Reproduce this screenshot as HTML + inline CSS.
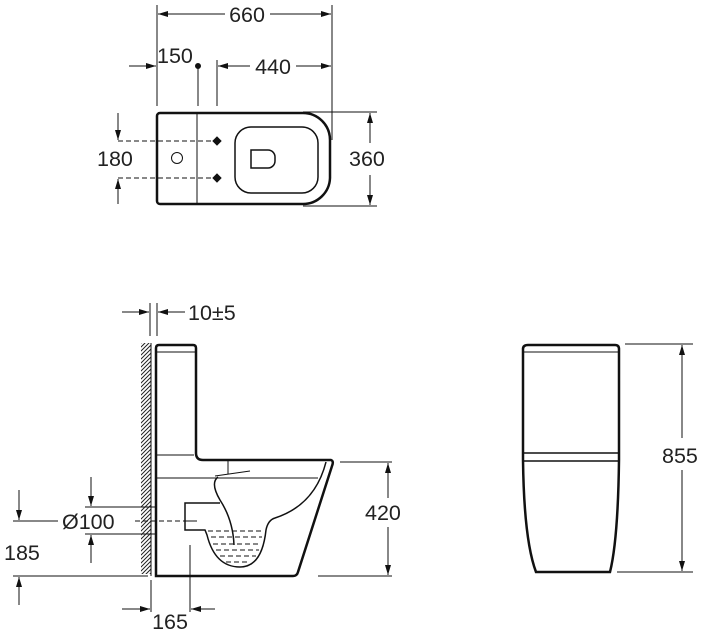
<!DOCTYPE html>
<html><head><meta charset="utf-8"><style>
html,body{margin:0;padding:0;background:#fff}
svg{display:block}
text{font-family:"Liberation Sans",Arial,sans-serif;font-size:21.5px;fill:#222}
</style></head><body>
<svg width="705" height="630" viewBox="0 0 705 630" xmlns="http://www.w3.org/2000/svg">
<defs>
<marker id="a" viewBox="0 0 10 6" refX="10" refY="3" markerWidth="10" markerHeight="6" markerUnits="userSpaceOnUse" orient="auto"><path d="M0,0L10,3L0,6z" fill="#111"/></marker>
<pattern id="h" width="4" height="4" patternUnits="userSpaceOnUse"><path d="M0,4L4,0M-1,1L1,-1M3,5L5,3" stroke="#222" stroke-width="1"/></pattern>
</defs>
<g stroke="#111" fill="none" stroke-width="1">
<!-- TOP VIEW -->
<line x1="157" y1="5" x2="157" y2="106"/>
<line x1="332" y1="5" x2="332" y2="140"/>
<line x1="225" y1="14" x2="158" y2="14" marker-end="url(#a)"/>
<line x1="270" y1="14" x2="331" y2="14" marker-end="url(#a)"/>
<line x1="129" y1="66" x2="156" y2="66" marker-end="url(#a)"/>
<line x1="198" y1="66" x2="198" y2="106"/>
<circle cx="198" cy="66" r="2.5" fill="#111"/>
<line x1="217" y1="60" x2="217" y2="106"/>
<line x1="250" y1="66" x2="218" y2="66" marker-end="url(#a)"/>
<line x1="296" y1="66" x2="331" y2="66" marker-end="url(#a)"/>
<path d="M160,113 H303 A27,27 0 0 1 330,140 V178 A27,27 0 0 1 303,204 H160 a3,3 0 0 1 -3,-3 V116 a3,3 0 0 1 3,-3z" stroke-width="2.5"/>
<line x1="197" y1="113" x2="197" y2="204"/>
<line x1="118" y1="141" x2="212" y2="141" stroke-dasharray="5,3"/>
<line x1="118" y1="178" x2="212" y2="178" stroke-dasharray="5,3"/>
<path d="M217,137L221,141L217,145L213,141z M217,174L221,178L217,182L213,178z" fill="#111"/>
<circle cx="177" cy="158" r="5.5"/>
<rect x="235" y="127" width="83" height="66" rx="16" stroke-width="1.5"/>
<path d="M251,150H268a7,7 0 0 1 7,7v4a7,7 0 0 1 -7,7H251z" stroke-width="1.5"/>
<line x1="118" y1="113" x2="118" y2="140" marker-end="url(#a)"/>
<line x1="118" y1="204" x2="118" y2="179" marker-end="url(#a)"/>
<line x1="303" y1="112" x2="377" y2="112"/>
<line x1="303" y1="206" x2="377" y2="206"/>
<line x1="370" y1="143" x2="370" y2="113" marker-end="url(#a)"/>
<line x1="370" y1="175" x2="370" y2="205" marker-end="url(#a)"/>

<!-- SIDE VIEW -->
<rect x="141" y="343" width="10" height="231" fill="url(#h)" stroke="none"/>
<line x1="151" y1="343" x2="151" y2="576"/>
<line x1="150" y1="303" x2="150" y2="336"/>
<line x1="157" y1="303" x2="157" y2="336"/>
<line x1="122" y1="312" x2="149" y2="312" marker-end="url(#a)"/>
<line x1="185" y1="312" x2="158" y2="312" marker-end="url(#a)"/>
<path d="M156,576 V348 Q156,345 159,345 H193 Q196,345 196,348 V453 Q196,460 203,460 H331 Q334,461 332,466 L298,572 Q297,576 293,576 H156z" stroke-width="2.5"/>
<line x1="156" y1="352" x2="196" y2="352"/>
<line x1="156" y1="455" x2="194" y2="455"/>
<line x1="156" y1="478" x2="318" y2="478"/>
<path d="M326,462 Q315,505 275,518 Q268,520 266,530 Q262,567 240,567 Q215,567 207,535 L205,530 H185 V503 H220" stroke-width="1.5"/>
<path d="M218,477 Q210,483 220,500 Q233,520 234,545" stroke-width="1.5"/>
<line x1="228" y1="461" x2="228" y2="474"/>
<line x1="215" y1="476" x2="250" y2="471"/>
<g stroke-dasharray="5,3">
<line x1="208" y1="531" x2="263" y2="531"/>
<line x1="211" y1="537" x2="262" y2="537"/>
<line x1="213" y1="544" x2="261" y2="544"/>
<line x1="216" y1="550" x2="259" y2="550"/>
<line x1="220" y1="556" x2="256" y2="556"/>
<line x1="226" y1="562" x2="250" y2="562"/>
<line x1="135" y1="521" x2="180" y2="521"/>
</g>
<line x1="183" y1="521" x2="197" y2="521"/>
<line x1="85" y1="507" x2="156" y2="507"/>
<line x1="85" y1="534" x2="156" y2="534"/>
<line x1="91" y1="477" x2="91" y2="506" marker-end="url(#a)"/>
<line x1="91" y1="563" x2="91" y2="535" marker-end="url(#a)"/>
<line x1="13" y1="521" x2="58" y2="521"/>
<line x1="13" y1="576" x2="148" y2="576"/>
<line x1="19" y1="490" x2="19" y2="520" marker-end="url(#a)"/>
<line x1="19" y1="605" x2="19" y2="577" marker-end="url(#a)"/>
<line x1="340" y1="462" x2="392" y2="462"/>
<line x1="318" y1="576" x2="392" y2="576"/>
<line x1="388" y1="498" x2="388" y2="463" marker-end="url(#a)"/>
<line x1="388" y1="527" x2="388" y2="575" marker-end="url(#a)"/>
<line x1="151" y1="580" x2="151" y2="612"/>
<line x1="190" y1="545" x2="190" y2="612"/>
<line x1="122" y1="609" x2="150" y2="609" marker-end="url(#a)"/>
<line x1="215" y1="609" x2="191" y2="609" marker-end="url(#a)"/>

<!-- FRONT VIEW -->
<path d="M523,349 V460 Q524,540 536,572 H610 Q618,540 619,460 V349 Q619,345 615,345 H528 Q523,345 523,349z" stroke-width="2.5"/>
<line x1="524" y1="352" x2="619" y2="352"/>
<line x1="524" y1="453" x2="619" y2="453" stroke-width="1.5"/>
<line x1="524" y1="461" x2="619" y2="461" stroke-width="1.5"/>
<line x1="625" y1="344" x2="693" y2="344"/>
<line x1="617" y1="572" x2="693" y2="572"/>
<line x1="682" y1="438" x2="682" y2="345" marker-end="url(#a)"/>
<line x1="682" y1="470" x2="682" y2="571" marker-end="url(#a)"/>
</g>
<text x="247" y="22" text-anchor="middle">660</text>
<text x="157" y="63">150</text>
<text x="273" y="74" text-anchor="middle">440</text>
<text x="97" y="166">180</text>
<text x="349" y="166">360</text>
<text x="188" y="320">10±5</text>
<text x="62" y="529">Ø100</text>
<text x="4" y="560">185</text>
<text x="365" y="520">420</text>
<text x="170" y="629" text-anchor="middle">165</text>
<text x="662" y="463">855</text>
</svg>
</body></html>
